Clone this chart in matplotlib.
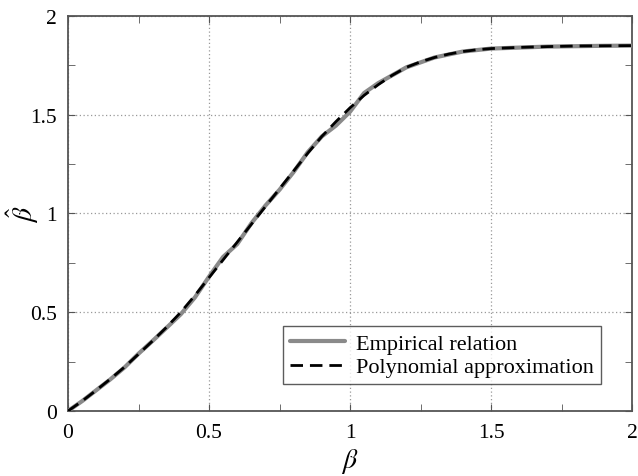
import matplotlib
matplotlib.use("Agg")
import matplotlib.pyplot as plt
from matplotlib.ticker import MultipleLocator

# Empirical relation (wiggly gray curve)
beta_emp = [0, 0.05, 0.1, 0.15, 0.2, 0.25, 0.3, 0.35, 0.4, 0.45, 0.5, 0.55,
            0.6, 0.65, 0.7, 0.75, 0.8, 0.85, 0.9, 0.95, 1.0, 1.05, 1.1, 1.15,
            1.2, 1.3, 1.4, 1.5, 1.6, 1.7, 1.8, 1.9, 2.0]
bhat_emp = [0, 0.05, 0.105, 0.16, 0.22, 0.29, 0.355, 0.422, 0.49, 0.575, 0.68, 0.78,
            0.845, 0.95, 1.04, 1.12, 1.21, 1.31, 1.39, 1.445, 1.515, 1.61, 1.66, 1.70,
            1.74, 1.79, 1.82, 1.835, 1.84, 1.845, 1.847, 1.849, 1.85]

# Polynomial approximation (smooth dashed curve)
beta_poly = [0, 0.05, 0.1, 0.15, 0.2, 0.25, 0.3, 0.35, 0.4, 0.45, 0.5, 0.55,
             0.6, 0.65, 0.7, 0.75, 0.8, 0.85, 0.9, 0.95, 1.0, 1.05, 1.1, 1.15,
             1.2, 1.25, 1.3, 1.35, 1.4, 1.45, 1.5, 1.6, 1.7, 1.8, 1.9, 2.0]
bhat_poly = [0, 0.05, 0.105, 0.162, 0.222, 0.288, 0.355, 0.425, 0.5, 0.585, 0.675, 0.765,
             0.855, 0.945, 1.035, 1.125, 1.215, 1.305, 1.39, 1.465, 1.535, 1.598, 1.652, 1.70,
             1.74, 1.768, 1.79, 1.807, 1.82, 1.829, 1.835, 1.841, 1.845, 1.848, 1.849, 1.85]

xticks = [0, 0.5, 1, 1.5, 2]
xticklabels = ["0", "0.5", "1", "1.5", "2"]
yticks = [0, 0.5, 1, 1.5, 2]
yticklabels = ["0", "0.5", "1", "1.5", "2"]

plt.rcParams['font.family'] = ['Liberation Serif', 'DejaVu Serif']
plt.rcParams['mathtext.fontset'] = 'stix'

fig = plt.figure(figsize=(6.38, 4.77), dpi=100)
ax = fig.add_axes([0.1066, 0.1363, 0.884, 0.8281])

ax.plot(beta_emp, bhat_emp, color='#8a8a8a', lw=3.0, solid_capstyle='round',
        label='Empirical relation', zorder=3)
ax.plot(beta_poly, bhat_poly, color='black', lw=2.0, dashes=(4.5, 2.5),
        label='Polynomial approximation', zorder=4)

ax.set_xlim(0, 2)
ax.set_ylim(0, 2)
ax.set_xticks(xticks)
ax.set_xticklabels(xticklabels)
ax.set_yticks(yticks)
ax.set_yticklabels(yticklabels)
ax.xaxis.set_minor_locator(MultipleLocator(0.25))
ax.yaxis.set_minor_locator(MultipleLocator(0.25))
ax.tick_params(which='both', direction='in', top=True, right=True,
               color='#555555', labelsize=15.5)
ax.tick_params(axis='x', which='both', pad=9)
ax.tick_params(axis='y', which='both', pad=8)
ax.tick_params(which='major', length=5)
ax.tick_params(which='minor', length=5)
ax.grid(True, which='major', linestyle=(0, (1, 2)), color='#999999', lw=0.9)
for s in ax.spines.values():
    s.set_color('#555555')
    s.set_linewidth(1.3)

ax.set_xlabel(r'$\beta$', fontsize=20)
ax.xaxis.set_label_coords(0.5, -0.088)
ax.set_ylabel(r'$\hat{\beta}$', fontsize=20)
ax.yaxis.set_label_coords(-0.048, 0.5)

leg = ax.legend(loc='lower right', bbox_to_anchor=(0.945, 0.068), fontsize=16,
                frameon=True, fancybox=False, edgecolor='#333333',
                handlelength=2.5, borderpad=0.3, labelspacing=0.15,
                handletextpad=0.5, borderaxespad=0)
leg.get_frame().set_linewidth(1.0)

fig.savefig('out.png', dpi=100)
